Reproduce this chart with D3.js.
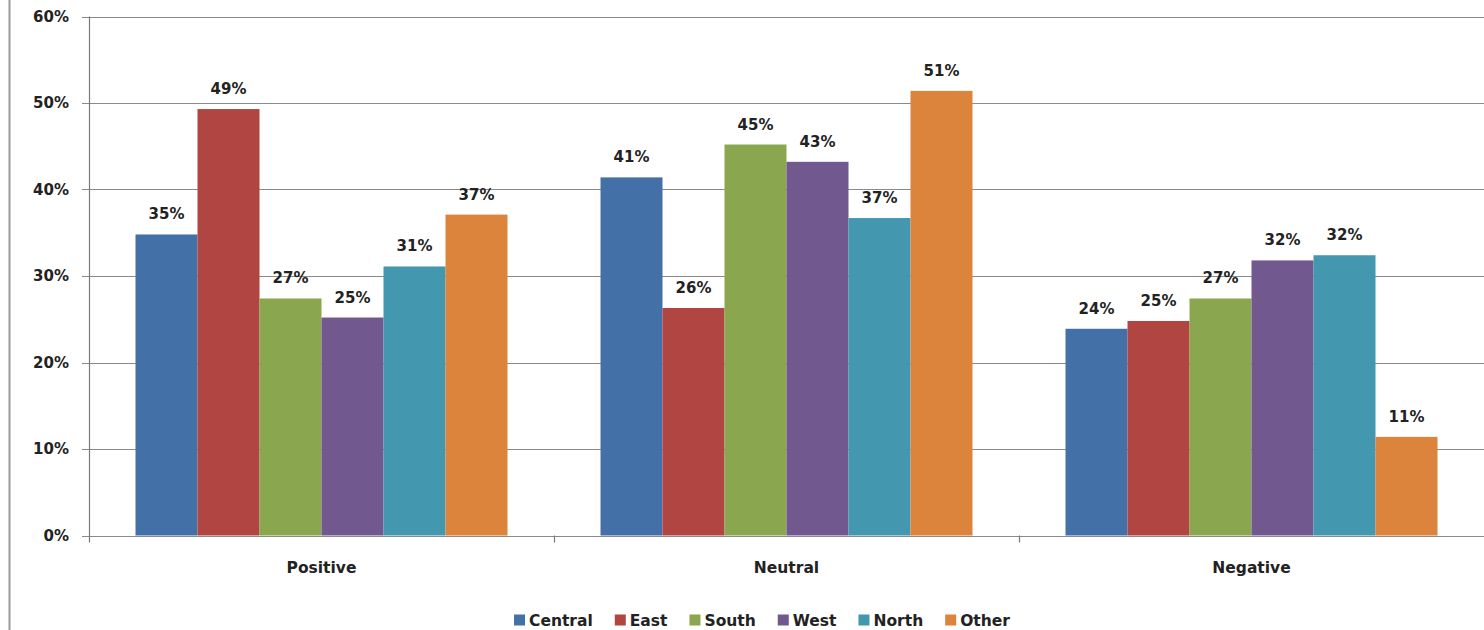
<!DOCTYPE html>
<html>
<head>
<meta charset="utf-8">
<script src="https://cdn.jsdelivr.net/npm/d3@7"></script>
<style>
  html, body { margin: 0; padding: 0; background: #fff; }
  svg { display: block; }
  text { font-family: "DejaVu Sans", Verdana, sans-serif; font-weight: bold; fill: #222; }
</style>
</head>
<body>
<svg id="chart" width="1484" height="630"></svg>
<script>
const categories = ["Positive", "Neutral", "Negative"];
const seriesNames = ["Central", "East", "South", "West", "North", "Other"];
const central = [0.348, 0.414, 0.239];
const east    = [0.493, 0.263, 0.248];
const south   = [0.274, 0.452, 0.274];
const west    = [0.252, 0.432, 0.318];
const north   = [0.311, 0.367, 0.324];
const other   = [0.371, 0.514, 0.114];
const seriesValues = [central, east, south, west, north, other];
const seriesColors = ["#4470A8", "#B04541", "#8AA64E", "#71588F", "#4397AE", "#DC843B"];
const yTicks = [0, 0.1, 0.2, 0.3, 0.4, 0.5, 0.6];

const FS = 15;
const svg = d3.select("#chart");
const W = 1484, H = 630;
const m = { left: 89 };
const x0Range = [m.left, m.left + 3 * 465];

// outer border at left
svg.append("line").attr("x1", 9.5).attr("x2", 9.5).attr("y1", 0).attr("y2", H)
  .attr("stroke", "#9a9a9a").attr("stroke-width", 2);

const y = d3.scaleLinear().domain([0, 0.6]).range([535.5, 16.5]);
const x0 = d3.scaleBand().domain(categories).range(x0Range).paddingInner(0).paddingOuter(0);
const x1 = d3.scaleBand().domain(seriesNames)
  .range([0, x0.bandwidth()]).paddingInner(0).paddingOuter(0.75);

// gridlines
svg.append("g").selectAll("line").data(yTicks).join("line")
  .attr("x1", m.left - 7).attr("x2", W)
  .attr("y1", d => Math.round(y(d)) + 0.5).attr("y2", d => Math.round(y(d)) + 0.5)
  .attr("stroke", "#8a8a8a").attr("stroke-width", 1.2);

// y tick labels
svg.append("g").selectAll("text").data(yTicks).join("text")
  .attr("x", 69).attr("y", d => y(d) + 5)
  .attr("text-anchor", "end").attr("font-size", FS)
  .text(d => d3.format(".0%")(d));

// y axis line
svg.append("line").attr("x1", m.left + 0.5).attr("x2", m.left + 0.5)
  .attr("y1", y(0.6)).attr("y2", y(0) + 7).attr("stroke", "#7a7a7a").attr("stroke-width", 1.2);

// category tick marks
const boundaries = categories.slice(1).map(c => x0(c));
svg.append("g").selectAll("line").data(boundaries).join("line")
  .attr("x1", d => d + 0.5).attr("x2", d => d + 0.5)
  .attr("y1", y(0)).attr("y2", y(0) + 7).attr("stroke", "#7a7a7a").attr("stroke-width", 1.2);

// bars
const rows = [];
categories.forEach((c, ci) => seriesNames.forEach((s, si) => rows.push({ c, s, si, v: seriesValues[si][ci] })));

svg.append("g").selectAll("rect").data(rows).join("rect")
  .attr("x", d => x0(d.c) + x1(d.s))
  .attr("width", x1.bandwidth())
  .attr("y", d => y(d.v))
  .attr("height", d => y(0) - y(d.v))
  .attr("fill", d => seriesColors[d.si]);

// value labels
svg.append("g").selectAll("text").data(rows).join("text")
  .attr("x", d => x0(d.c) + x1(d.s) + x1.bandwidth() / 2)
  .attr("y", d => y(d.v) - 15)
  .attr("text-anchor", "middle").attr("font-size", FS)
  .text(d => Math.round(d.v * 100) + "%");

// x axis category labels
svg.append("g").selectAll("text").data(categories).join("text")
  .attr("x", d => x0(d) + x0.bandwidth() / 2)
  .attr("y", 573)
  .attr("text-anchor", "middle").attr("font-size", FS + 0.5)
  .text(d => d);

// legend (laid out from measured text widths, centred)
const legendCenter = 762, sw = 11, swGap = 4, itemGap = 22;
const lgRoot = svg.append("g").attr("transform", "translate(0,614)");
const items = lgRoot.selectAll("g").data(seriesNames).join("g");
items.append("rect").attr("y", 0.5).attr("width", sw).attr("height", sw).attr("fill", (d, i) => seriesColors[i]);
items.append("text").attr("x", sw + swGap).attr("y", 11.5).attr("font-size", FS + 0.5).text(d => d);
const widths = [];
items.each(function() {
  widths.push(sw + swGap + d3.select(this).select("text").node().getComputedTextLength());
});
const total = d3.sum(widths) + itemGap * (widths.length - 1);
let start = legendCenter - total / 2;
items.attr("transform", (d, i) => {
  const t = `translate(${start},0)`;
  start += widths[i] + itemGap;
  return t;
});
</script>
</body>
</html>
